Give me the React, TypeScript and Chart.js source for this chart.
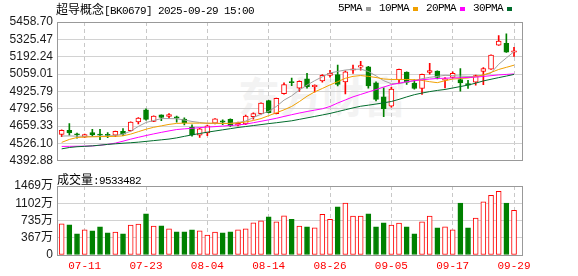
import { useEffect, useRef } from 'react';
import { Chart, registerables } from 'chart.js';

Chart.register(...registerables);

const TITLE_NAME = '超导概念';
const TITLE_CODE = '[BK0679] 2025-09-29 15:00';
const VOLUME_NAME = '成交量';
const WATERMARK = '东方财富';

const DATES = [
  '07-08', '07-09', '07-10', '07-11', '07-14', '07-15', '07-16', '07-17', '07-18', '07-21',
  '07-22', '07-23', '07-24', '07-25', '07-28', '07-29', '07-30', '07-31', '08-01', '08-04',
  '08-05', '08-06', '08-07', '08-08', '08-11', '08-12', '08-13', '08-14', '08-15', '08-18',
  '08-19', '08-20', '08-21', '08-22', '08-25', '08-26', '08-27', '08-28', '08-29', '09-01',
  '09-02', '09-03', '09-04', '09-05', '09-08', '09-09', '09-10', '09-11', '09-12', '09-15',
  '09-16', '09-17', '09-18', '09-19', '09-22', '09-23', '09-24', '09-25', '09-26', '09-29',
];

const OPEN = [
  4595, 4627, 4598, 4575, 4610, 4598, 4595, 4590, 4620, 4625,
  4691, 4785, 4696, 4745, 4733, 4730, 4713, 4651, 4589, 4607,
  4681, 4700, 4711, 4666, 4676, 4731, 4755, 4855, 4755, 4909,
  4998, 4950, 5023, 4962, 5006, 5049, 5054, 4999, 5088, 5112,
  5115, 4991, 4885, 4812, 5015, 5074, 4990, 4948, 5071, 5081,
  5012, 5034, 5017, 4985, 4997, 5079, 5096, 5281, 5294, 5227,
];
const HIGH = [
  4630, 4679, 4605, 4598, 4635, 4635, 4610, 4622, 4640, 4693,
  4724, 4792, 4739, 4746, 4755, 4736, 4723, 4669, 4643, 4668,
  4718, 4708, 4716, 4690, 4743, 4762, 4838, 4857, 4875, 4991,
  5028, 5006, 5064, 4977, 5054, 5088, 5127, 5083, 5127, 5156,
  5118, 5000, 4953, 4957, 5098, 5076, 5015, 5059, 5141, 5084,
  5032, 5076, 5101, 5010, 5052, 5109, 5207, 5355, 5368, 5264,
];
const LOW = [
  4578, 4590, 4566, 4572, 4578, 4556, 4570, 4578, 4585, 4620,
  4676, 4704, 4694, 4701, 4718, 4689, 4668, 4582, 4572, 4586,
  4676, 4670, 4656, 4661, 4671, 4713, 4750, 4760, 4752, 4904,
  4969, 4926, 4950, 4919, 4996, 5035, 4967, 4907, 5064, 5088,
  4950, 4853, 4732, 4805, 4986, 4979, 4943, 4903, 5059, 5022,
  4953, 5027, 4928, 4948, 4973, 4978, 5094, 5279, 5225, 5195,
];
const CLOSE = [
  4627, 4607, 4593, 4595, 4593, 4590, 4588, 4620, 4598, 4691,
  4721, 4711, 4736, 4726, 4748, 4721, 4684, 4592, 4639, 4661,
  4716, 4690, 4661, 4681, 4736, 4755, 4837, 4763, 4872, 4979,
  4993, 5003, 4962, 4972, 5049, 5064, 4979, 5076, 5100, 5125,
  4967, 4865, 4793, 4943, 5095, 4994, 4948, 5057, 5086, 5034,
  5022, 5064, 4990, 4973, 5047, 5101, 5205, 5313, 5227, 5237,
];
const VOLUME = [
  6640000, 6430000, 4520000, 5370000, 5150000, 6000000, 4730000, 4870000, 4520000, 6350000,
  6570000, 8750000, 6140000, 6210000, 5580000, 4940000, 4940000, 5370000, 5150000, 4240000,
  4870000, 4730000, 4940000, 5370000, 5580000, 6850000, 7270000, 8120000, 7060000, 8330000,
  7620000, 6140000, 6000000, 5790000, 8680000, 7620000, 10240000, 11080000, 8260000, 8260000,
  8750000, 6000000, 6850000, 6350000, 6780000, 6000000, 4520000, 7060000, 8260000, 5790000,
  6000000, 5370000, 11080000, 5790000, 7840000, 11300000, 12710000, 13560000, 11080000, 9533482,
];

const MA5 = [
  4583, 4584, 4582, 4581, 4580, 4581, 4583, 4587, 4598, 4620,
  4657, 4687, 4702, 4717, 4717, 4716, 4706, 4695, 4687, 4680,
  4680, 4679, 4680, 4687, 4698, 4725, 4751, 4773, 4810, 4859,
  4892, 4937, 4974, 5008, 5038, 5067, 5079, 5090, 5095, 5097,
  5079, 5045, 5008, 4985, 4985, 4997, 5008, 5023, 5034, 5041,
  5049, 5047, 5043, 5041, 5040, 5050, 5067, 5134, 5183, 5231,
];
const MA10 = [
  4534.5, 4556.9, 4571.8, 4575.5, 4577.0, 4578.5, 4579.2, 4580.7, 4584.5, 4597.9,
  4616.5, 4635.1, 4650.1, 4661.2, 4672.4, 4679.9, 4682.1, 4682.1, 4682.1, 4682.1,
  4681.4, 4679.9, 4679.9, 4683.6, 4691.0, 4702.2, 4717.1, 4739.5, 4761.8, 4784.2,
  4810.3, 4847.6, 4888.5, 4922.1, 4948.2, 4975.7, 5000.3, 5026.4, 5041.3, 5047.3,
  5041.3, 5032.4, 5021.2, 5017.5, 5017.5, 5017.5, 5015.2, 5010.0, 5000.3, 4992.9,
  5007.8, 5020.5, 5024.9, 5028.7, 5039.1, 5052.5, 5071.1, 5094.2, 5110.6, 5127.0,
];
const MA20 = [
  4503.2, 4504.0, 4504.7, 4505.5, 4507.0, 4512.2, 4518.9, 4528.6, 4543.5, 4559.1,
  4573.3, 4586.7, 4599.4, 4611.3, 4622.5, 4632.9, 4638.1, 4642.6, 4647.8, 4651.5,
  4655.3, 4659.7, 4664.2, 4668.7, 4674.6, 4685.1, 4696.3, 4707.4, 4719.4, 4733.5,
  4746.9, 4759.6, 4771.5, 4782.0, 4792.4, 4810.3, 4836.4, 4860.2, 4884.1, 4902.7,
  4921.3, 4940.0, 4959.3, 4978.0, 4989.2, 5000.3, 5008.5, 5015.2, 5020.5, 5024.9,
  5027.2, 5029.4, 5030.9, 5033.1, 5035.4, 5040.6, 5046.5, 5052.5, 5056.2, 5060.0,
];
const MA30 = [
  4484.6, 4495.0, 4501.0, 4504.0, 4507.7, 4512.9, 4518.9, 4523.3, 4527.8, 4531.5,
  4536.0, 4542.0, 4547.9, 4553.9, 4559.9, 4568.8, 4580.7, 4591.9, 4602.3, 4612.8,
  4621.7, 4630.7, 4639.6, 4648.6, 4656.0, 4663.5, 4670.9, 4678.4, 4685.1, 4692.5,
  4700.0, 4711.2, 4722.3, 4733.5, 4744.7, 4756.6, 4770.8, 4784.9, 4799.1, 4811.8,
  4820.0, 4828.9, 4837.9, 4848.3, 4864.7, 4883.3, 4900.5, 4913.1, 4924.3, 4933.3,
  4940.7, 4951.9, 4963.1, 4974.3, 4989.2, 5006.3, 5019.0, 5031.6, 5043.6, 5056.2,
];

const MA_NAMES = ['5PMA', '10PMA', '20PMA', '30PMA'];
const PRICE_TICKS = [4392.88, 4526.10, 4659.33, 4792.56, 4925.79, 5059.01, 5192.24, 5325.47, 5458.70];
const VOLUME_TICKS = [0, 3672500, 7345000, 11017500, 14690000];
const DATE_TICK_INDEX = [3, 11, 19, 27, 35, 43, 51, 59];

const RED = '#ff0000';
const GREEN = '#008000';
const MA_COLORS = ['#a0a0a0', '#f0a000', '#ff00ff', '#006c2c'];
const BORDER = '#999999';
const GRID = '#d2d2d2';
const SANS = '"Liberation Sans", "Noto Sans CJK SC", sans-serif';
const MONO = '"Liberation Mono", "Noto Sans CJK SC", monospace';
const CJK = '"Noto Sans CJK SC", sans-serif';

const isUp = (i: number) => CLOSE[i] >= OPEN[i];

function xScale(showLabels: boolean, height: number) {
  return {
    type: 'linear' as const,
    min: -0.61,
    max: 60.04,
    offset: false,
    afterBuildTicks: (s: any) => {
      s.ticks = DATE_TICK_INDEX.map((v) => ({ value: v }));
    },
    afterFit: (s: any) => {
      s.height = height;
    },
    grid: { color: '#c8c8c8', lineWidth: 1, drawTicks: false, offset: false },
    border: { display: true, color: BORDER, dash: [4, 3] },
    ticks: {
      display: showLabels,
      autoSkip: false,
      maxRotation: 0,
      padding: 4,
      color: RED,
      font: { family: MONO, size: 11 },
      callback: (v: any) => DATES[Number(v)] ?? '',
    },
  };
}

function rightBorder() {
  return {
    type: 'linear' as const,
    position: 'right' as const,
    display: true,
    min: 0,
    max: 1,
    grid: { display: false, drawTicks: false },
    ticks: { display: false },
    border: { display: true, color: BORDER },
    afterFit: (s: any) => {
      s.width = 0;
    },
  };
}

function yScale(ticks: number[], fmt: (v: number) => string) {
  return {
    type: 'linear' as const,
    position: 'left' as const,
    min: ticks[0],
    max: ticks[ticks.length - 1],
    afterBuildTicks: (s: any) => {
      s.ticks = ticks.map((v) => ({ value: v }));
    },
    afterFit: (s: any) => {
      s.width = 57;
    },
    grid: {
      drawTicks: false,
      color: (c: any) => (c.index === ticks.length - 1 ? BORDER : GRID),
    },
    border: { display: true, color: BORDER },
    ticks: {
      autoSkip: false,
      padding: 4,
      color: '#1a1a1a',
      font: { family: SANS, size: 12 },
      callback: (v: any) => fmt(Number(v)),
    },
  };
}

export default function App() {
  const priceRef = useRef<HTMLCanvasElement>(null);
  const volRef = useRef<HTMLCanvasElement>(null);

  useEffect(() => {
    const idx = DATES.map((_, i) => i);
    const maSets = [MA5, MA10, MA20, MA30].map((arr, k) => ({
      type: 'line' as const,
      label: MA_NAMES[k],
      data: arr.map((v, i) => ({ x: i, y: v })),
      borderColor: MA_COLORS[k],
      borderWidth: 1,
      pointRadius: 0,
      tension: 0,
      fill: false,
      order: 4 - k,
    }));

    const price = new Chart(priceRef.current as HTMLCanvasElement, {
      type: 'bar',
      data: {
        datasets: [
          {
            type: 'bar',
            label: 'wick',
            data: idx.map((i) => ({ x: i, y: [LOW[i], HIGH[i]] })) as any,
            backgroundColor: idx.map((i) => (isUp(i) ? RED : GREEN)),
            borderWidth: 0,
            barThickness: 1,
            grouped: false,
            order: 11,
          },
          {
            type: 'bar',
            label: 'body',
            data: idx.map((i) => ({ x: i, y: [OPEN[i], CLOSE[i]] })) as any,
            backgroundColor: idx.map((i) => (isUp(i) ? '#ffffff' : GREEN)),
            borderColor: idx.map((i) => (isUp(i) ? RED : GREEN)),
            borderWidth: 1,
            borderSkipped: false,
            barThickness: 5,
            minBarLength: 1,
            grouped: false,
            order: 10,
          },
          ...maSets,
        ] as any,
      },
      options: {
        responsive: false,
        animation: false,
        events: [],
        layout: { padding: { left: 0, right: 56, top: 22, bottom: 7 } },
        plugins: { legend: { display: false }, tooltip: { enabled: false } },
        scales: {
          x: xScale(false, 0),
          y: yScale(PRICE_TICKS, (v) => v.toFixed(2)),
          yR: rightBorder(),
        } as any,
      },
    });

    const volume = new Chart(volRef.current as HTMLCanvasElement, {
      type: 'bar',
      data: {
        datasets: [
          {
            label: VOLUME_NAME,
            data: idx.map((i) => ({ x: i, y: VOLUME[i] })) as any,
            backgroundColor: idx.map((i) => (isUp(i) ? '#ffffff' : GREEN)),
            borderColor: idx.map((i) => (isUp(i) ? RED : GREEN)),
            borderWidth: 1,
            borderSkipped: false,
            barThickness: 5,
            grouped: false,
          },
        ],
      },
      options: {
        responsive: false,
        animation: false,
        events: [],
        layout: { padding: { left: 0, right: 56, top: 14, bottom: 0 } },
        plugins: { legend: { display: false }, tooltip: { enabled: false } },
        scales: {
          x: xScale(true, 21),
          y: yScale(VOLUME_TICKS, (v) => (v === 0 ? '0' : `${Math.round(v / 10000)}万`)),
          yR: rightBorder(),
        } as any,
      },
    });

    return () => {
      price.destroy();
      volume.destroy();
    };
  }, []);

  const lastVolume = VOLUME[VOLUME.length - 1];

  return (
    <div
      style={{
        position: 'fixed',
        left: 0,
        top: 0,
        width: 578,
        height: 276,
        background: '#ffffff',
        overflow: 'hidden',
        color: '#000',
      }}
    >
      <div
        style={{
          position: 'absolute',
          left: 238,
          top: 70,
          fontFamily: CJK,
          fontWeight: 700,
          fontSize: 42,
          lineHeight: '50px',
          color: '#f3f3f3',
          whiteSpace: 'nowrap',
        }}
      >
        {WATERMARK}
      </div>
      <canvas
        ref={priceRef}
        width={578}
        height={172}
        style={{ position: 'absolute', left: 0, top: 0, width: 578, height: 172 }}
      />
      <canvas
        ref={volRef}
        width={578}
        height={104}
        style={{ position: 'absolute', left: 0, top: 172, width: 578, height: 104 }}
      />
      <div
        style={{
          position: 'absolute',
          left: 56,
          top: 2,
          height: 13,
          lineHeight: '13px',
          whiteSpace: 'nowrap',
        }}
      >
        <span style={{ fontFamily: CJK, fontSize: 12 }}>{TITLE_NAME}</span>
        <span style={{ fontFamily: MONO, fontSize: 11, letterSpacing: '-0.6px' }}>{TITLE_CODE}</span>
      </div>
      <div
        style={{
          position: 'absolute',
          left: 338,
          top: 2,
          height: 13,
          display: 'flex',
          alignItems: 'center',
          whiteSpace: 'nowrap',
        }}
      >
        {MA_NAMES.map((name, k) => (
          <div key={name} style={{ display: 'flex', alignItems: 'center' }}>
            <span
              style={{ fontFamily: MONO, fontSize: 11, letterSpacing: '-0.6px', lineHeight: '13px' }}
            >
              {name}
            </span>
            <span
              style={{
                display: 'inline-block',
                width: 5,
                height: 4,
                marginLeft: 4,
                marginRight: 8,
                background: MA_COLORS[k],
              }}
            />
          </div>
        ))}
      </div>
      <div
        style={{
          position: 'absolute',
          left: 57,
          top: 172,
          height: 13,
          lineHeight: '13px',
          whiteSpace: 'nowrap',
        }}
      >
        <span style={{ fontFamily: CJK, fontSize: 12 }}>{VOLUME_NAME}</span>
        <span style={{ fontFamily: MONO, fontSize: 11, letterSpacing: '-0.6px' }}>:{lastVolume}</span>
      </div>
    </div>
  );
}
